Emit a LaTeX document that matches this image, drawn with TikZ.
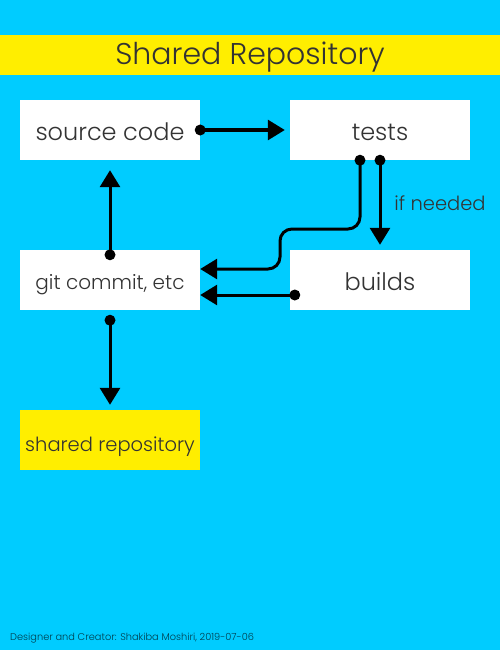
\documentclass[tikz,border=0pt]{standalone}
\usepackage{fontspec}
\setmainfont{Poppins}[UprightFont=* Light]
\usetikzlibrary{arrows.meta}
\definecolor{sky}{HTML}{00CCFF}
\definecolor{banner}{HTML}{FFEE00}
\definecolor{ink}{HTML}{333333}
\tikzset{
  box/.style={fill=white, minimum width=180pt, minimum height=60pt, inner sep=0pt,
    text height=20pt, text depth=0pt, text=ink, font=\fontsize{24}{28}\selectfont},
  flow/.style={line width=3pt, -{Triangle[width=20pt,length=17pt]}},
  dot/.style={fill=black},
}
\begin{document}
\begin{tikzpicture}[x=1pt,y=-1pt]
  % background and title band
  \fill[sky] (0,0) rectangle (500,650);
  \useasboundingbox (0,0) rectangle (500,650);
  \fill[banner] (0,35) rectangle (500,75);
  \node[anchor=base, text=ink, font=\fontsize{30}{34}\selectfont] (title) at (250,65) {Shared Repository};

  % boxes
  \node[box] (src) at (110,130) {source code};
  \node[box] (tst) at (380,130) {tests};
  \node[box, text height=18pt, font=\fontsize{20}{24}\selectfont] (git) at (110,280) {git commit, etc};
  \node[box] (bld) at (380,280) {builds};
  \node[box, fill=banner, text height=22pt, font=\fontsize{19.5}{23}\selectfont] (rep) at (110,440) {shared repository};

  % attachment points (yshift points up the page)
  \coordinate (tA) at ([xshift=-20pt]tst.south);
  \coordinate (tB) at (tst.south);
  \coordinate (gUp) at ([yshift=-5pt]git.north);
  \coordinate (gDn) at ([yshift=-10pt]git.south);
  \coordinate (bOut) at ([xshift=5pt,yshift=-15pt]bld.west);

  % connectors
  \draw[flow, shorten >=5pt] (src.east) -- (tst.west);
  \fill[dot] (src.east) circle (5.5pt);

  \draw[flow, shorten >=10pt] (gUp) -- (src.south);
  \fill[dot] (gUp) circle (5.5pt);

  \draw[flow, shorten >=5pt] (gDn) -- (rep.north);
  \fill[dot] (gDn) circle (5.5pt);

  \draw[flow, shorten >=5pt] (tB) -- (tB|-bld.north);
  \fill[dot] (tB) circle (5.5pt);
  \node[anchor=base, text=ink, font=\fontsize{19.5}{23}\selectfont] (need) at (440,210) {if needed};

  \draw[flow, rounded corners=12pt] (tA) -- (360,229) -- (280,229) -- (280,269) -- ([yshift=11pt]git.east);
  \fill[dot] (tA) circle (5.5pt);

  \draw[flow] (bOut) -- (bOut-|git.east);
  \fill[dot] (bOut) circle (5.5pt);

  % credit line
  \node[anchor=base west, inner sep=0pt, text=black!70!sky, font=\fontsize{9.8}{12}\selectfont] (credit) at (10,640) {Designer and Creator: Shakiba Moshiri, 2019-07-06};
\end{tikzpicture}
\end{document}
